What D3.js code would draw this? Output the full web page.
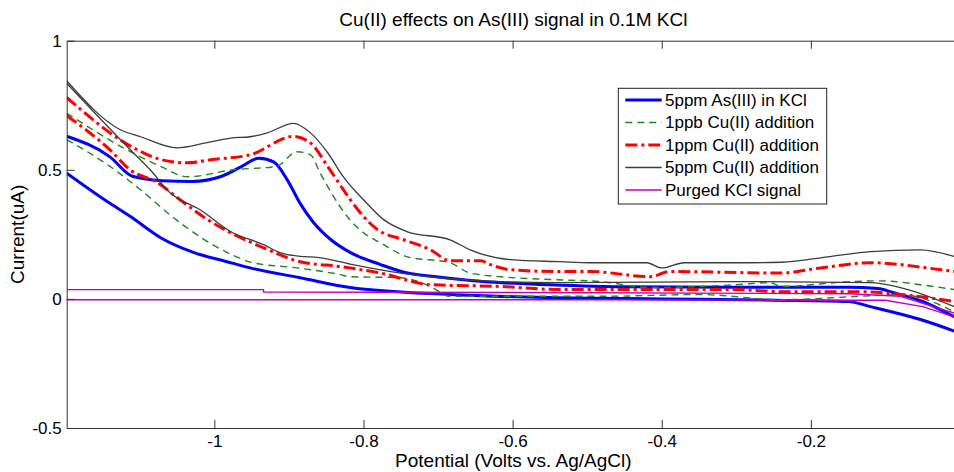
<!DOCTYPE html>
<html>
<head>
<meta charset="utf-8">
<script src="https://cdn.jsdelivr.net/npm/d3@7"></script>
<style>
  body { margin: 0; background: #fff; }
  text { font-family: "Liberation Sans", Arial, sans-serif; fill: #000; }
</style>
</head>
<body>
<svg id="chart" width="954" height="472"></svg>
<script>
// potential (V) , current (uA) pairs; fwd = upper branch, rev = lower branch
const asFwd = [[-1.198,0.63],[-1.14,0.55],[-1.11,0.475],[-1.07,0.458],[-1.03,0.455],[-0.99,0.475],[-0.965,0.51],[-0.94,0.545],[-0.92,0.53],[-0.902,0.46],[-0.885,0.37],[-0.867,0.296],[-0.844,0.23],[-0.818,0.18],[-0.777,0.133],[-0.741,0.10],[-0.70,0.085],[-0.64,0.067],[-0.55,0.055],[-0.45,0.047],[-0.3,0.045],[-0.15,0.045],[-0.11,0.04],[-0.09,0.025],[-0.05,-0.01],[-0.0075,-0.07]];
const asRev = [[-1.198,0.487],[-1.14,0.37],[-1.113,0.32],[-1.072,0.237],[-1.028,0.18],[-0.983,0.144],[-0.952,0.12],[-0.885,0.082],[-0.818,0.044],[-0.684,0.017],[-0.55,0.005],[-0.4,0.0],[-0.25,-0.005],[-0.15,-0.01],[-0.12,-0.03],[-0.053,-0.08],[-0.0075,-0.125]];

const ppbFwd = [[-1.198,0.72],[-1.117,0.577],[-1.072,0.513],[-1.036,0.473],[-0.975,0.50],[-0.917,0.513],[-0.889,0.57],[-0.871,0.558],[-0.858,0.487],[-0.84,0.396],[-0.822,0.32],[-0.80,0.256],[-0.777,0.217],[-0.741,0.163],[-0.684,0.14],[-0.657,0.10],[-0.616,0.086],[-0.55,0.075],[-0.482,0.067],[-0.415,0.044],[-0.30,0.055],[-0.254,0.063],[-0.24,0.048],[-0.147,0.067],[-0.107,0.07],[-0.053,0.055],[-0.0075,0.036]];
const ppbRev = [[-1.198,0.617],[-1.14,0.513],[-1.099,0.423],[-1.055,0.315],[-1.019,0.24],[-0.983,0.18],[-0.948,0.14],[-0.889,0.12],[-0.831,0.094],[-0.818,0.086],[-0.75,0.082],[-0.71,0.048],[-0.684,0.01],[-0.482,0.01],[-0.348,0.017],[-0.241,-0.003],[-0.134,0.01],[-0.08,0.017],[-0.0075,-0.05]];

const ppmFwd = [[-1.198,0.78],[-1.103,0.577],[-1.072,0.54],[-1.036,0.527],[-1.005,0.539],[-0.952,0.558],[-0.894,0.629],[-0.871,0.604],[-0.848,0.513],[-0.827,0.423],[-0.804,0.333],[-0.781,0.268],[-0.747,0.23],[-0.71,0.19],[-0.684,0.148],[-0.643,0.148],[-0.63,0.133],[-0.603,0.113],[-0.536,0.106],[-0.496,0.106],[-0.415,0.086],[-0.39,0.106],[-0.241,0.10],[-0.187,0.12],[-0.12,0.14],[-0.026,0.113],[-0.0075,0.106]];
const ppmRev = [[-1.198,0.71],[-1.14,0.577],[-1.113,0.50],[-1.076,0.45],[-1.046,0.384],[-1.009,0.307],[-0.978,0.256],[-0.934,0.198],[-0.885,0.144],[-0.831,0.125],[-0.777,0.10],[-0.71,0.055],[-0.616,0.048],[-0.536,0.036],[-0.3,0.036],[-0.241,0.028],[-0.134,0.028],[-0.08,0.017],[-0.0075,-0.01]];

const cu5Fwd = [[-1.198,0.845],[-1.126,0.655],[-1.099,0.628],[-1.05,0.585],[-1.01,0.605],[-0.978,0.623],[-0.952,0.628],[-0.929,0.643],[-0.894,0.68],[-0.871,0.643],[-0.848,0.566],[-0.827,0.473],[-0.80,0.384],[-0.773,0.307],[-0.741,0.26],[-0.684,0.229],[-0.657,0.19],[-0.603,0.152],[-0.536,0.144],[-0.496,0.14],[-0.42,0.14],[-0.40,0.12],[-0.37,0.14],[-0.30,0.14],[-0.24,0.142],[-0.174,0.164],[-0.12,0.183],[-0.053,0.19],[-0.0075,0.164]];
const cu5Rev = [[-1.198,0.835],[-1.117,0.59],[-1.086,0.50],[-1.059,0.41],[-1.019,0.345],[-0.979,0.262],[-0.934,0.21],[-0.911,0.178],[-0.885,0.165],[-0.86,0.16],[-0.818,0.135],[-0.75,0.10],[-0.684,0.078],[-0.616,0.067],[-0.536,0.063],[-0.30,0.067],[-0.12,0.063],[-0.08,0.044],[-0.0075,-0.03]];

const kclFwd = [[-1.198,0.036],[-0.934,0.036],[-0.934,0.027],[-0.5,0.024],[-0.15,0.02],[-0.08,0.01],[-0.0075,-0.055]];
const kclRev = [[-1.198,-0.003],[-0.5,-0.003],[-0.25,-0.005],[-0.1,-0.005],[-0.05,-0.03],[-0.0075,-0.07]];

const seriesNames = ["5ppm As(III) in KCl", "1ppb Cu(II) addition", "1ppm Cu(II) addition", "5ppm Cu(II) addition", "Purged KCl signal"];
const xTicks = [-1, -0.8, -0.6, -0.4, -0.2];
const yTicks = [-0.5, 0, 0.5, 1];

const series = [
    {name: seriesNames[0], branches: [asFwd, asRev], color: "#0000ff", width: 3, dash: null, smooth: true},
    {name: seriesNames[1], branches: [ppbFwd, ppbRev], color: "#1a8a1a", width: 1.4, dash: "7,5", smooth: true},
    {name: seriesNames[2], branches: [ppmFwd, ppmRev], color: "#ff0000", width: 3, dash: "12,4,3,4", smooth: true},
    {name: seriesNames[3], branches: [cu5Fwd, cu5Rev], color: "#3c3c3c", width: 1.3, dash: null, smooth: true},
    {name: seriesNames[4], branches: [kclFwd, kclRev], color: "#c000c0", width: 1.4, dash: null, smooth: false}
];

const margin = {top: 40.7, left: 66.7},
    plotW = 893.3,
    plotH = 387.3;

const svg = d3.select("#chart");
const g = svg.append("g").attr("transform", "translate(" + margin.left + "," + margin.top + ")");

const x = d3.scaleLinear().domain([-1.198, 0]).range([0, plotW]);
const y = d3.scaleLinear().domain([-0.5, 1]).range([plotH, 0]);

g.append("clipPath").attr("id", "clip")
    .append("rect").attr("width", plotW).attr("height", plotH);

const smoothLine = d3.line()
    .curve(d3.curveMonotoneX)
    .x(function (d) { return x(d[0]); })
    .y(function (d) { return y(d[1]); });

const stepLine = d3.line()
    .x(function (d) { return x(d[0]); })
    .y(function (d) { return y(d[1]); });

const plot = g.append("g").attr("clip-path", "url(#clip)");

series.forEach(function (s) {
    s.branches.forEach(function (b) {
        plot.append("path")
            .datum(b)
            .attr("d", s.smooth ? smoothLine : stepLine)
            .attr("fill", "none")
            .attr("stroke", s.color)
            .attr("stroke-width", s.width)
            .attr("stroke-dasharray", s.dash)
            .attr("stroke-linejoin", "round");
    });
});

// axes, MATLAB style box with inward ticks
g.append("g")
    .attr("class", "x-axis")
    .attr("transform", "translate(0," + plotH + ")")
    .call(d3.axisBottom(x).tickValues(xTicks).tickSizeInner(-8).tickSizeOuter(0).tickPadding(7)
        .tickFormat(function (d) { return String(d); }));

g.append("g")
    .attr("class", "x-top")
    .call(d3.axisTop(x).tickValues(xTicks).tickSizeInner(-8).tickSizeOuter(0).tickFormat(""));

g.append("g")
    .attr("class", "y-axis")
    .call(d3.axisLeft(y).tickValues(yTicks).tickSizeInner(-8).tickSizeOuter(0).tickPadding(5)
        .tickFormat(function (d) { return String(d); }));

g.selectAll(".domain, .tick line").attr("stroke", "#333");
g.selectAll(".tick text").attr("font-size", 17).attr("fill", "#000")
    .style("font-family", "'Liberation Sans', Arial, sans-serif");

// labels
svg.append("text")
    .attr("x", margin.left + plotW / 2).attr("y", 26)
    .attr("text-anchor", "middle").attr("font-size", 19)
    .text("Cu(II) effects on As(III) signal in 0.1M KCl");

svg.append("text")
    .attr("x", margin.left + plotW / 2).attr("y", 467)
    .attr("text-anchor", "middle").attr("font-size", 19)
    .text("Potential (Volts vs. Ag/AgCl)");

svg.append("text")
    .attr("transform", "translate(24," + (margin.top + plotH / 2) + ") rotate(-90)")
    .attr("text-anchor", "middle").attr("font-size", 19)
    .text("Current(uA)");

// legend
const legend = svg.append("g").attr("transform", "translate(618.3,88.3)");
legend.append("rect")
    .attr("width", 208.4).attr("height", 115.7)
    .attr("fill", "#fff").attr("stroke", "#222").attr("stroke-width", 1);

series.forEach(function (s, i) {
    const ly = 11.7 + i * 22.5;
    legend.append("line")
        .attr("x1", 7).attr("x2", 43.4).attr("y1", ly).attr("y2", ly)
        .attr("stroke", s.color).attr("stroke-width", s.width)
        .attr("stroke-dasharray", s.dash);
    legend.append("text")
        .attr("x", 46.7).attr("y", ly + 6)
        .attr("font-size", 17)
        .text(s.name);
});
</script>
</body>
</html>
